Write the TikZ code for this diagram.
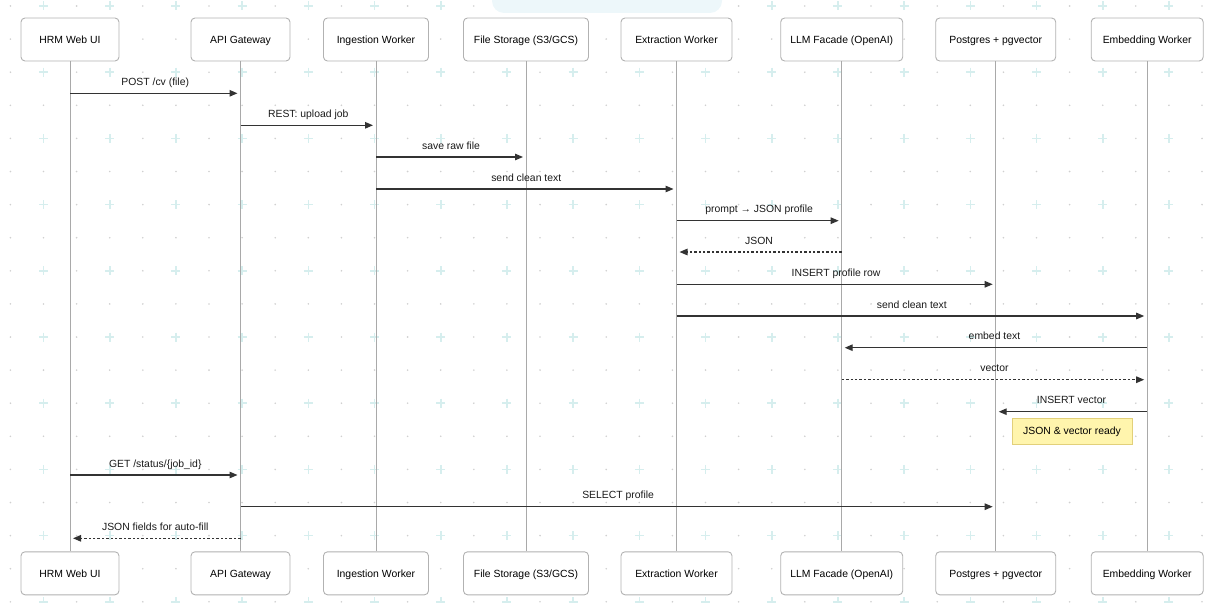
\documentclass[tikz,border=0pt]{standalone}
\usepackage{fontspec}
\setmainfont{Liberation Sans}
\usetikzlibrary{arrows.meta}
\definecolor{gridplus}{HTML}{D6EEEE}
\definecolor{griddot}{HTML}{D0D0D0}
\definecolor{lifegray}{HTML}{A9A9A9}
\definecolor{boxgray}{HTML}{B2B2B2}
\definecolor{msgdark}{HTML}{333333}
\definecolor{notefill}{HTML}{FFF5AD}
\definecolor{notedraw}{HTML}{E2D07A}
\definecolor{bannerblue}{HTML}{EDF7FA}

\begin{document}
\begin{tikzpicture}[x=1pt,y=-1pt]
		\def\gridsep{33.1}
		\tikzstyle{actor}=[draw=boxgray,fill=white,rounded corners=4pt,line width=0.9pt,minimum height=43pt,inner xsep=4pt,text height=7.6pt,text depth=0pt,font=\fontsize{10.4}{12}\selectfont]
		\tikzstyle{lifeline}=[draw=lifegray,line width=1pt]
		\tikzstyle{call}=[draw=msgdark,line width=1.2pt,-{Triangle[length=8pt,width=6.5pt]},shorten >=3pt]
		\tikzstyle{reply}=[call,dash pattern=on 2.4pt off 2pt]
		\tikzstyle{lbl}=[anchor=base,yshift=8pt,inner sep=0pt,text=black!90,font=\fontsize{10.4}{12}\selectfont]
		\tikzstyle{note}=[draw=notedraw,fill=notefill,line width=0.9pt,minimum width=120pt,minimum height=26pt,inner sep=0pt,text height=7.6pt,text depth=0pt,font=\fontsize{10.4}{12}\selectfont]
		\useasboundingbox (0,0) rectangle (1217,602);
		
		\foreach \i in {0,...,36}
		\foreach \j in {0,...,18}
		\fill[griddot] (10.4+\i*\gridsep,6+\j*\gridsep) circle (0.9pt);
		\foreach \i in {1,3,...,35}
		\foreach \j in {0,2,...,18}
		\draw[gridplus,line width=1.6pt] (10.4+\i*\gridsep-4.5,6+\j*\gridsep) -- ++(9,0)
		(10.4+\i*\gridsep,6+\j*\gridsep-4.5) -- ++(0,9);
		
		\fill[bannerblue,rounded corners=12pt] (492,-20) rectangle (722,13);
		
		\foreach \x/\w/\n/\t in {70/98/web/HRM Web UI,240.5/99/gw/API Gateway,376/105/ing/Ingestion Worker,526/125/fs/{File Storage (S3/GCS)},676.5/111/ext/Extraction Worker,841.7/122/llm/{LLM Facade (OpenAI)},995.7/120/pg/Postgres + pgvector,1147.2/112/emb/Embedding Worker}
		{
			\node[actor,minimum width=\w pt](t-\n) at (\x,39.5){\t};
			\node[actor,minimum width=\w pt](b-\n) at (\x,573.3){\t};
			\path[lifeline] (t-\n) -- (b-\n);
		}
		
		\foreach \y/\a/\b/\s/\t in {93.3/web/gw/call/{POST /cv (file)},125.3/gw/ing/call/{REST: upload job},157/ing/fs/call/save raw file,189/ing/ext/call/send clean text,220.7/ext/llm/call/{prompt → JSON profile},252/llm/ext/reply/JSON,284.3/ext/pg/call/INSERT profile row,316/ext/emb/call/send clean text,347.7/emb/llm/call/embed text,379.7/llm/emb/reply/vector,411.7/emb/pg/call/INSERT vector,475/web/gw/call/{GET /status/\{job\_id\}},506.7/gw/pg/call/SELECT profile,538.3/gw/web/reply/JSON fields for auto-fill}
		{
			\coordinate (row) at (0,\y);
			\path[\s] (t-\a |- row) -- node[lbl]{\t} (t-\b |- row);
		}
		
		\node[note](ready) at (1072,431){JSON \& vector ready};
\end{tikzpicture}
\end{document}
